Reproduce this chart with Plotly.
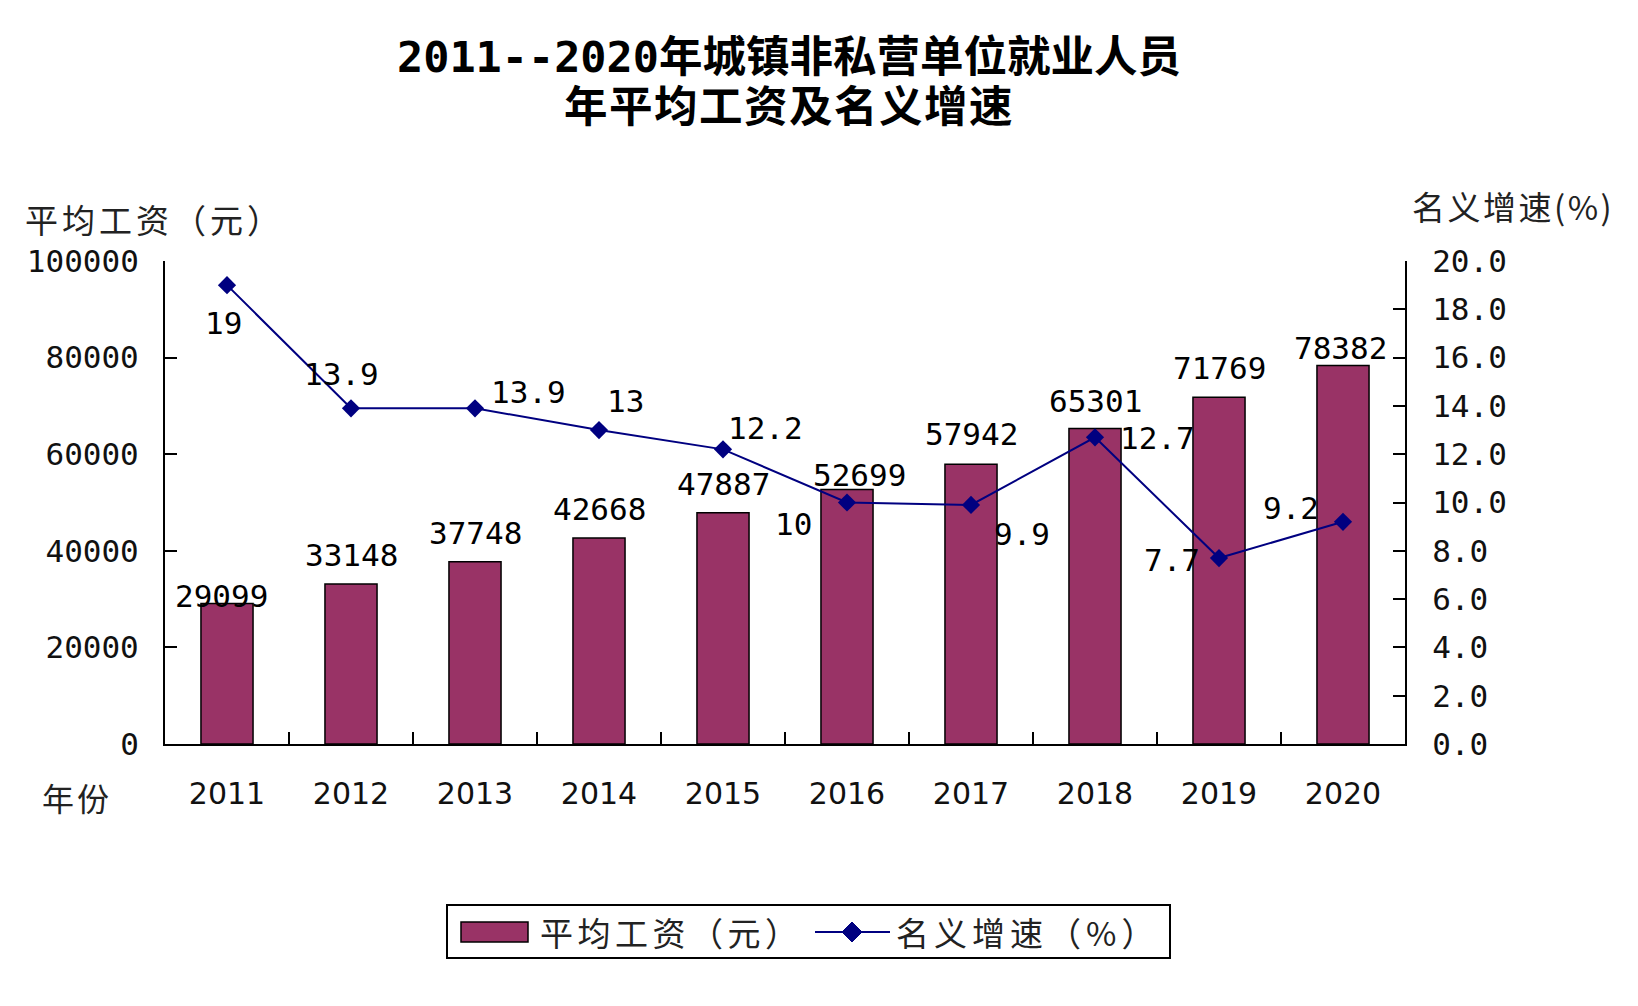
import plotly.graph_objects as go

years = ["2011", "2012", "2013", "2014", "2015", "2016", "2017", "2018", "2019", "2020"]
wages = [29099, 33148, 37748, 42668, 47887, 52699, 57942, 65301, 71769, 78382]
growth = [19, 13.9, 13.9, 13, 12.2, 10, 9.9, 12.7, 7.7, 9.2]
growth_text = ["19", "13.9", "13.9", "13", "12.2", "10", "9.9", "12.7", "7.7", "9.2"]

# label offsets in pixels (style, not data)
bar_label_shift = [(-6, 7), (0, 29), (0, 29), (0, 29), (0, 29), (12, 14), (0, 30), (0, 28), (0, 29), (-3, 17)]
line_label_shift = [(-4, -38), (-10, 34), (53, 16), (26, 29), (42, 21), (-54, -21), (51, -29), (62, -1), (-47, -2), (-52, 14)]

MONO = "DejaVu Sans Mono, Noto Sans CJK SC"
CJK = "Noto Sans CJK SC, DejaVu Sans"
SANS = "DejaVu Sans, Noto Sans CJK SC"
BAR_COLOR = "#993366"
LINE_COLOR = "#000080"
TXT = "#111"

W, H = 1638, 1006
OFF = 8  # page offset of the figure inside the browser window
# target plot area in window pixels
X0, X1, Y0, Y1 = 165, 1405, 261, 744
L, R, T = X0 - OFF, W - (X1 - OFF), Y0 - OFF
B = H - (Y1 - OFF)
PW, PH = W - L - R, H - T - B


def px(x):
    return (x - OFF - L) / PW


def py(y):
    return (H - B - (y - OFF)) / PH


def spaced(s, sp):
    return f'<span style="letter-spacing:{sp}px">{s}</span>'


fig = go.Figure()

fig.add_trace(go.Bar(
    x=years, y=wages, name="平均工资（元）", yaxis="y",
    marker=dict(color=BAR_COLOR, line=dict(color="black", width=1.5)),
    showlegend=False,
))
fig.add_trace(go.Scatter(
    x=years, y=growth, name="名义增速（%）", mode="lines+markers", yaxis="y2",
    line=dict(color=LINE_COLOR, width=2),
    marker=dict(symbol="diamond", size=14, color=LINE_COLOR),
    showlegend=False,
))

annotations = []
for i, (v, (dx, dy)) in enumerate(zip(wages, bar_label_shift)):
    annotations.append(dict(x=i, y=v, xref="x", yref="y", text=f"{v}", showarrow=False,
                            xanchor="center", yanchor="middle", xshift=dx, yshift=dy,
                            font=dict(family=MONO, size=31, color="black")))
for i, (v, t, (dx, dy)) in enumerate(zip(growth, growth_text, line_label_shift)):
    annotations.append(dict(x=i, y=v, xref="x", yref="y2", text=t, showarrow=False,
                            xanchor="center", yanchor="middle", xshift=dx, yshift=dy,
                            font=dict(family=MONO, size=31, color="black")))

# title (two lines)
annotations.append(dict(x=0.5, y=py(57), xref="paper", yref="paper", xshift=4,
                        text="<b>2011--2020年城镇非私营单位就业人员</b>", showarrow=False,
                        xanchor="center", yanchor="middle",
                        font=dict(family=MONO, size=43.5, color="black")))
annotations.append(dict(x=0.5, y=py(107), xref="paper", yref="paper", xshift=4,
                        text="<b>" + spaced("年平均工资及名义增速", 1.5) + "</b>", showarrow=False,
                        xanchor="center", yanchor="middle",
                        font=dict(family=MONO, size=43.5, color="black")))

# axis titles
annotations.append(dict(x=px(23), y=py(219), xref="paper", yref="paper",
                        text=spaced("平均工资（元）", 4), showarrow=False,
                        xanchor="left", yanchor="middle",
                        font=dict(family=CJK, size=33, color="#222")))
annotations.append(dict(x=px(1410), y=py(206), xref="paper", yref="paper",
                        text=spaced("名义增速(%)", 2.5), showarrow=False,
                        xanchor="left", yanchor="middle",
                        font=dict(family=CJK, size=33, color="#222")))
annotations.append(dict(x=px(40), y=py(797), xref="paper", yref="paper",
                        text=spaced("年份", 3), showarrow=False,
                        xanchor="left", yanchor="middle",
                        font=dict(family=CJK, size=32, color="#222")))

# custom legend
shapes = [
    dict(type="rect", xref="paper", yref="paper", x0=px(447), x1=px(1170), y0=py(958), y1=py(905),
         line=dict(color="black", width=2), fillcolor="white"),
    dict(type="rect", xref="paper", yref="paper", x0=px(461), x1=px(528), y0=py(942), y1=py(922),
         line=dict(color="black", width=1.5), fillcolor=BAR_COLOR),
    dict(type="line", xref="paper", yref="paper", x0=px(815), x1=px(890), y0=py(932), y1=py(932),
         line=dict(color=LINE_COLOR, width=2)),
]
dcx, dcy, dr = 852, 932, 10
shapes.append(dict(type="path", xref="paper", yref="paper",
                   path=f"M {px(dcx - dr)} {py(dcy)} L {px(dcx)} {py(dcy - dr)} L {px(dcx + dr)} {py(dcy)} L {px(dcx)} {py(dcy + dr)} Z",
                   fillcolor=LINE_COLOR, line=dict(color=LINE_COLOR, width=1)))
annotations.append(dict(x=px(538), y=py(932), xref="paper", yref="paper",
                        text=spaced("平均工资（元）", 4.5), showarrow=False,
                        xanchor="left", yanchor="middle",
                        font=dict(family=CJK, size=33, color="#222")))
annotations.append(dict(x=px(894), y=py(932), xref="paper", yref="paper",
                        text=spaced("名义增速（%）", 5), showarrow=False,
                        xanchor="left", yanchor="middle",
                        font=dict(family=CJK, size=33, color="#222")))

fig.update_layout(
    width=W, height=H,
    margin=dict(l=L, r=R, t=T, b=B, autoexpand=False),
    paper_bgcolor="white", plot_bgcolor="white",
    bargap=0.58,
    showlegend=False,
    annotations=annotations,
    shapes=shapes,
    xaxis=dict(
        type="category", categoryorder="array", categoryarray=years,
        range=[-0.5, len(years) - 0.5], automargin=False,
        showline=True, linecolor="black", linewidth=2,
        ticks="inside", tickson="boundaries", ticklen=12, tickwidth=2, tickcolor="black",
        showgrid=False, tickangle=0, tickfont=dict(family=SANS, size=30, color=TXT),
        ticklabelstandoff=22,
    ),
    yaxis=dict(
        range=[0, 100000], dtick=20000, tick0=0, tickformat="d", automargin=False,
        showline=True, linecolor="black", linewidth=2,
        ticks="inside", ticklen=12, tickwidth=2, tickcolor="black", showgrid=False, zeroline=False,
        tickfont=dict(family=MONO, size=31, color=TXT), ticklabelstandoff=18,
    ),
    yaxis2=dict(
        range=[0, 20], dtick=2, tick0=0, tickformat=".1f", automargin=False,
        overlaying="y", side="right", anchor="x",
        showline=True, linecolor="black", linewidth=2,
        ticks="inside", ticklen=12, tickwidth=2, tickcolor="black", showgrid=False, zeroline=False,
        tickfont=dict(family=MONO, size=31, color=TXT), ticklabelstandoff=19,
    ),
)

fig.write_html("out.html")
